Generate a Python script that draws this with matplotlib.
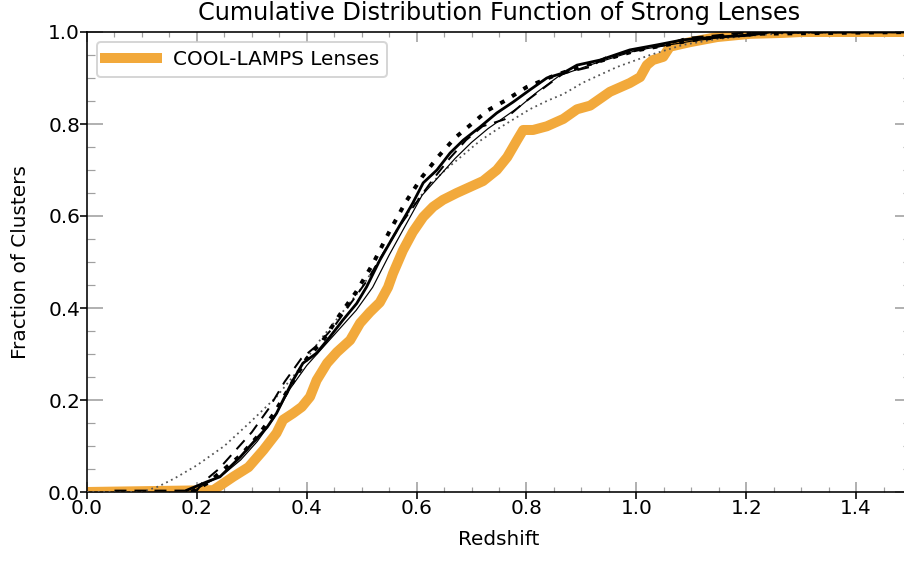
import numpy as np
import matplotlib
matplotlib.use("Agg")
import matplotlib.pyplot as plt
from matplotlib.ticker import MultipleLocator

# CDF curves (redshift, cumulative fraction)
cool_z = [0.00, 0.23, 0.266, 0.294, 0.321, 0.345, 0.357, 0.375, 0.391, 0.406, 0.418, 0.437,
          0.455, 0.479, 0.497, 0.515, 0.533, 0.548, 0.557, 0.575, 0.593, 0.612, 0.630, 0.648,
          0.673, 0.697, 0.721, 0.746, 0.765, 0.783, 0.794, 0.812, 0.837, 0.867, 0.892, 0.916,
          0.952, 0.988, 1.007, 1.019, 1.030, 1.049, 1.061, 1.098, 1.147, 1.207, 1.267, 1.30, 1.50]
cool_f = [0.000, 0.004, 0.033, 0.054, 0.091, 0.128, 0.157, 0.171, 0.185, 0.207, 0.243, 0.280,
          0.304, 0.330, 0.367, 0.391, 0.412, 0.445, 0.475, 0.525, 0.565, 0.598, 0.620, 0.635,
          0.650, 0.663, 0.676, 0.700, 0.728, 0.765, 0.787, 0.787, 0.795, 0.811, 0.832, 0.840,
          0.870, 0.889, 0.902, 0.928, 0.939, 0.946, 0.968, 0.978, 0.989, 0.996, 0.998, 1.000, 1.000]

thick_z = [0.182, 0.218, 0.242, 0.260, 0.279, 0.302, 0.328, 0.345, 0.357, 0.375, 0.393, 0.418,
           0.442, 0.466, 0.491, 0.509, 0.533, 0.557, 0.575, 0.593, 0.612, 0.637, 0.661, 0.685,
           0.715, 0.746, 0.776, 0.806, 0.837, 0.867, 0.892, 0.934, 0.988, 1.038, 1.085, 1.147,
           1.207, 1.243, 1.50]
thick_f = [0.004, 0.022, 0.033, 0.054, 0.076, 0.107, 0.141, 0.171, 0.200, 0.243, 0.280, 0.302,
           0.337, 0.374, 0.410, 0.446, 0.504, 0.554, 0.591, 0.628, 0.672, 0.700, 0.737, 0.765,
           0.793, 0.824, 0.848, 0.874, 0.900, 0.911, 0.928, 0.939, 0.961, 0.972, 0.983, 0.989,
           0.993, 1.000, 1.000]

thin_z = [0.19, 0.22, 0.25, 0.28, 0.31, 0.34, 0.37, 0.40, 0.43, 0.46, 0.49, 0.52, 0.55, 0.58,
          0.61, 0.64, 0.67, 0.70, 0.73, 0.76, 0.79, 0.82, 0.86, 0.92, 1.00, 1.10, 1.20, 1.25, 1.50]
thin_f = [0.000, 0.020, 0.040, 0.070, 0.110, 0.160, 0.225, 0.275, 0.315, 0.355, 0.395, 0.445,
          0.515, 0.580, 0.645, 0.685, 0.725, 0.760, 0.790, 0.815, 0.840, 0.870, 0.905, 0.930,
          0.960, 0.980, 0.995, 1.000, 1.000]

dash_z = [0.05, 0.20, 0.21, 0.24, 0.27, 0.30, 0.33, 0.36, 0.39, 0.42, 0.45, 0.48, 0.51, 0.54,
          0.57, 0.60, 0.63, 0.66, 0.69, 0.72, 0.76, 0.794, 0.867, 0.916, 0.946, 1.007, 1.056,
          1.09, 1.14, 1.19, 1.50]
dash_f = [0.003, 0.003, 0.020, 0.050, 0.090, 0.130, 0.180, 0.240, 0.290, 0.320, 0.360, 0.410,
          0.460, 0.520, 0.580, 0.630, 0.680, 0.725, 0.765, 0.795, 0.810, 0.845, 0.910, 0.924,
          0.946, 0.961, 0.972, 0.987, 0.992, 0.998, 1.000]

dot_z = [0.19, 0.22, 0.25, 0.28, 0.31, 0.34, 0.37, 0.40, 0.43, 0.46, 0.49, 0.52, 0.55, 0.58,
         0.61, 0.64, 0.67, 0.70, 0.73, 0.76, 0.80, 0.85, 0.90, 1.00, 1.10, 1.20, 1.50]
dot_f = [0.000, 0.020, 0.050, 0.080, 0.120, 0.170, 0.230, 0.290, 0.330, 0.385, 0.435, 0.495,
         0.565, 0.630, 0.685, 0.730, 0.770, 0.800, 0.830, 0.850, 0.880, 0.905, 0.925, 0.960,
         0.982, 0.996, 1.000]

model_z = [0.00, 0.100, 0.130, 0.160, 0.200, 0.250, 0.300, 0.345, 0.388, 0.424, 0.461, 0.497,
           0.533, 0.564, 0.593, 0.624, 0.655, 0.685, 0.715, 0.746, 0.776, 0.806, 0.837, 0.867,
           0.903, 0.965, 1.025, 1.085, 1.147, 1.207, 1.267, 1.40, 1.50]
model_f = [0.000, 0.000, 0.012, 0.030, 0.058, 0.100, 0.155, 0.207, 0.270, 0.330, 0.385, 0.439,
           0.505, 0.570, 0.622, 0.668, 0.703, 0.733, 0.763, 0.788, 0.810, 0.832, 0.850, 0.865,
           0.890, 0.924, 0.950, 0.972, 0.985, 0.992, 0.997, 1.000, 1.000]

orange = '#f2a93b'
W, H = 904, 561
fig = plt.figure(figsize=(W / 144, H / 144), dpi=144)
pos = [87 / W, (H - 492) / H, (911 - 87) / W, 460 / H]
ax = fig.add_axes(pos)

ax.plot(cool_z, cool_f, color=orange, lw=5, label='COOL-LAMPS Lenses', zorder=2)
ax.plot(model_z, model_f, color='#555555', lw=0.9, ls=(0, (1, 2)), zorder=3)
ax.plot(dash_z, dash_f, color='black', lw=1.0, ls=(0, (6, 4)), zorder=3)
ax.plot(thin_z, thin_f, color='black', lw=0.6, zorder=3)
ax.plot(dot_z, dot_f, color='black', lw=2.0, ls=(0, (1.2, 2.2)), zorder=3)
ax.plot(thick_z, thick_f, color='black', lw=1.4, zorder=3)

ax.set_xlim(0, 1.5)
ax.set_ylim(0, 1.0)
ax.xaxis.set_major_locator(MultipleLocator(0.2))
ax.xaxis.set_minor_locator(MultipleLocator(0.05))
ax.yaxis.set_major_locator(MultipleLocator(0.2))
ax.yaxis.set_minor_locator(MultipleLocator(0.05))
ax.tick_params(axis='both', which='both', direction='in', color='#a0a0a0',
               top=True, right=True, labelcolor='black', labelsize=10)
ax.tick_params(axis='y', which='major', length=8)
ax.tick_params(axis='y', which='minor', length=4)
ax.tick_params(axis='x', which='major', length=5)
ax.tick_params(axis='x', which='minor', length=2.5)

ax.set_xlabel('Redshift', fontsize=10, labelpad=6)
ax.set_ylabel('Fraction of Clusters', fontsize=10, labelpad=9)
ax.set_title('Cumulative Distribution Function of Strong Lenses', fontsize=12)
ax.legend(loc='upper left', fontsize=10, handlelength=2.6)

# outward black major ticks on the left and bottom
ax_out = fig.add_axes(pos, frameon=False)
ax_out.set_xlim(0, 1.5)
ax_out.set_ylim(0, 1.0)
ax_out.xaxis.set_major_locator(MultipleLocator(0.2))
ax_out.yaxis.set_major_locator(MultipleLocator(0.2))
ax_out.tick_params(direction='out', color='black', length=3.5,
                   labelbottom=False, labelleft=False)
ax_out.patch.set_visible(False)

fig.savefig('out.png', dpi=144)
